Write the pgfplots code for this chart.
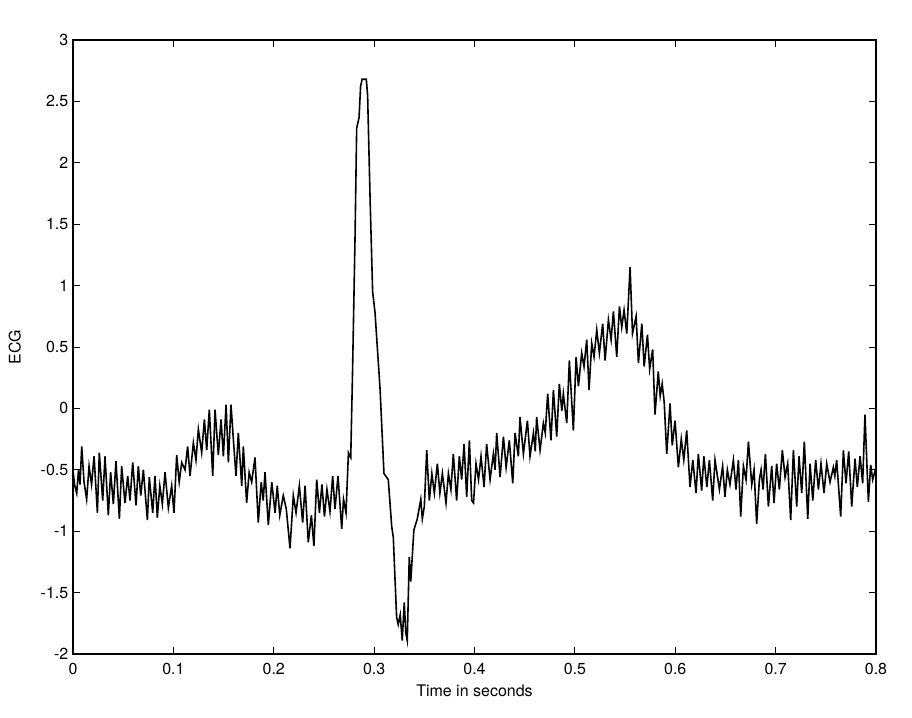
\documentclass[border=0pt]{standalone}
\usepackage{pgfplots}
\pgfplotsset{compat=1.18}
\usepackage{fontspec}
\setmainfont{TeX Gyre Heros}
\begin{document}
\begin{tikzpicture}
\begin{axis}[
  scale only axis,
  width=602.25pt, height=460.5pt,
  xmin=0, xmax=0.8, ymin=-2, ymax=3,
  xtick={0,0.1,0.2,0.3,0.4,0.5,0.6,0.7,0.8},
  ytick={-2,-1.5,-1,-0.5,0,0.5,1,1.5,2,2.5,3},
  xticklabels={0,0.1,0.2,0.3,0.4,0.5,0.6,0.7,0.8},
  yticklabels={-2,-1.5,-1,-0.5,0,0.5,1,1.5,2,2.5,3},
  tick align=inside,
  major tick length=5pt,
  tick style={black, line width=0.6pt},
  axis line style={black, line width=0.9pt},
  ticklabel style={font=\fontsize{12}{14}\selectfont},
  label style={font=\fontsize{12}{14}\selectfont},
  xticklabel style={yshift=-3pt},
  xlabel={Time in seconds},
  ylabel={ECG},
  xlabel style={yshift=-1pt},
  ylabel style={yshift=8pt},
  /pgf/number format/assume math mode=true,
]
\addplot[black, line width=1.2pt] coordinates {
(0.0000,-0.50) (0.0015,-0.62) (0.0037,-0.69) (0.0055,-0.50) (0.0070,-0.62)
(0.0087,-0.31) (0.0110,-0.60) (0.0136,-0.74) (0.0160,-0.47) (0.0185,-0.62)
(0.0210,-0.39) (0.0243,-0.85) (0.0262,-0.36) (0.0296,-0.75) (0.0319,-0.39)
(0.0352,-0.87) (0.0375,-0.52) (0.0402,-0.78) (0.0428,-0.43) (0.0462,-0.90)
(0.0485,-0.47) (0.0518,-0.77) (0.0545,-0.55) (0.0568,-0.75) (0.0595,-0.44)
(0.0628,-0.79) (0.0651,-0.47) (0.0675,-0.71) (0.0701,-0.50) (0.0741,-0.91)
(0.0760,-0.56) (0.0794,-0.85) (0.0817,-0.55) (0.0840,-0.89) (0.0865,-0.63)
(0.0890,-0.78) (0.0917,-0.52) (0.0950,-0.81) (0.0983,-0.63) (0.1006,-0.85)
(0.1033,-0.38) (0.1058,-0.60) (0.1083,-0.44) (0.1116,-0.50) (0.1142,-0.31)
(0.1166,-0.55) (0.1199,-0.28) (0.1225,-0.42) (0.1249,-0.17) (0.1282,-0.36)
(0.1309,-0.09) (0.1332,-0.34) (0.1358,-0.01) (0.1392,-0.55) (0.1415,-0.01)
(0.1448,-0.38) (0.1475,-0.09) (0.1498,-0.39) (0.1525,0.03) (0.1548,-0.44)
(0.1574,0.03) (0.1600,-0.28) (0.1624,-0.55) (0.1647,-0.20) (0.1681,-0.63)
(0.1697,-0.31) (0.1730,-0.77) (0.1755,-0.52) (0.1780,-0.60) (0.1813,-0.40)
(0.1846,-0.93) (0.1875,-0.60) (0.1895,-0.75) (0.1913,-0.52) (0.1946,-0.95)
(0.1980,-0.60) (0.2013,-0.85) (0.2035,-0.63) (0.2060,-0.87) (0.2095,-0.71)
(0.2125,-0.82) (0.2162,-1.14) (0.2195,-0.71) (0.2222,-0.85) (0.2255,-0.63)
(0.2288,-0.93) (0.2312,-0.63) (0.2344,-1.09) (0.2375,-0.87) (0.2400,-1.12)
(0.2428,-0.58) (0.2455,-0.85) (0.2480,-0.62) (0.2505,-0.88) (0.2530,-0.66)
(0.2560,-0.84) (0.2587,-0.55) (0.2610,-0.82) (0.2640,-0.55) (0.2677,-0.98)
(0.2695,-0.74) (0.2720,-0.85) (0.2744,-0.36) (0.2767,-0.40)
(0.2785,0.30) (0.2810,1.40) (0.2826,2.28) (0.2850,2.37) (0.2865,2.62)
(0.2880,2.68) (0.2922,2.68) (0.2935,2.55) (0.2960,1.70) (0.2985,0.95)
(0.3009,0.78) (0.3059,0.16) (0.3098,-0.53) (0.3141,-0.58) (0.3175,-0.96)
(0.3191,-1.05) (0.3224,-1.70) (0.3240,-1.76) (0.3260,-1.68) (0.3280,-1.89)
(0.3300,-1.58) (0.3316,-1.83) (0.3330,-1.89) (0.3350,-1.21) (0.3365,-1.41)
(0.3396,-0.99) (0.3430,-0.90) (0.3465,-0.74) (0.3480,-0.90) (0.3500,-0.80)
(0.3524,-0.34) (0.3550,-0.75) (0.3575,-0.53) (0.3600,-0.69) (0.3630,-0.45)
(0.3655,-0.69) (0.3680,-0.53) (0.3716,-0.77) (0.3740,-0.53) (0.3765,-0.66)
(0.3789,-0.37) (0.3822,-0.75) (0.3849,-0.39) (0.3872,-0.58) (0.3896,-0.29)
(0.3922,-0.72) (0.3949,-0.26) (0.3972,-0.75) (0.3990,-0.77) (0.4015,-0.45)
(0.4040,-0.58) (0.4065,-0.39) (0.4095,-0.64) (0.4121,-0.29) (0.4155,-0.58)
(0.4188,-0.37) (0.4205,-0.50) (0.4221,-0.20) (0.4255,-0.56) (0.4288,-0.23)
(0.4315,-0.48) (0.4347,-0.26) (0.4381,-0.61) (0.4404,-0.20) (0.4437,-0.39)
(0.4453,-0.07) (0.4487,-0.37) (0.4527,-0.10) (0.4553,-0.39) (0.4587,-0.20)
(0.4605,-0.35) (0.4619,-0.07) (0.4653,-0.34) (0.4686,-0.12) (0.4705,-0.20)
(0.4729,0.12) (0.4762,-0.26) (0.4786,0.15) (0.4819,-0.23) (0.4845,0.20)
(0.4870,-0.02) (0.4885,0.12) (0.4919,-0.12) (0.4945,0.39) (0.4985,-0.18)
(0.5012,0.42) (0.5035,0.18) (0.5068,0.45) (0.5091,0.34) (0.5118,0.56)
(0.5141,0.15) (0.5168,0.53) (0.5191,0.42) (0.5218,0.64) (0.5244,0.45)
(0.5277,0.69) (0.5301,0.39) (0.5334,0.72) (0.5361,0.56) (0.5384,0.79)
(0.5417,0.42) (0.5444,0.83) (0.5467,0.66) (0.5490,0.80) (0.5517,0.61)
(0.5550,1.15) (0.5574,0.61) (0.5610,0.75) (0.5633,0.37) (0.5667,0.69)
(0.5690,0.34) (0.5723,0.60) (0.5745,0.32) (0.5775,0.48) (0.5798,-0.05)
(0.5831,0.30) (0.5850,0.10) (0.5870,0.20) (0.5890,0.05) (0.5915,-0.37)
(0.5948,0.04) (0.5970,-0.30) (0.5998,-0.10) (0.6031,-0.48) (0.6060,-0.25)
(0.6085,-0.42) (0.6114,-0.18) (0.6147,-0.64) (0.6175,-0.42) (0.6207,-0.69)
(0.6230,-0.37) (0.6263,-0.67) (0.6285,-0.39) (0.6315,-0.64) (0.6340,-0.42)
(0.6373,-0.75) (0.6396,-0.42) (0.6440,-0.66) (0.6472,-0.47) (0.6495,-0.72)
(0.6519,-0.50) (0.6545,-0.62) (0.6579,-0.42) (0.6605,-0.66) (0.6629,-0.42)
(0.6652,-0.88) (0.6679,-0.47) (0.6705,-0.58) (0.6729,-0.27) (0.6762,-0.62)
(0.6785,-0.50) (0.6811,-0.94) (0.6838,-0.58) (0.6855,-0.50) (0.6875,-0.66)
(0.6898,-0.37) (0.6928,-0.80) (0.6961,-0.47) (0.6984,-0.77) (0.7010,-0.45)
(0.7037,-0.66) (0.7067,-0.34) (0.7094,-0.56) (0.7120,-0.45) (0.7150,-0.91)
(0.7177,-0.34) (0.7210,-0.80) (0.7233,-0.39) (0.7260,-0.69) (0.7286,-0.27)
(0.7320,-0.90) (0.7343,-0.45) (0.7370,-0.75) (0.7399,-0.42) (0.7426,-0.66)
(0.7452,-0.45) (0.7482,-0.69) (0.7509,-0.45) (0.7542,-0.60) (0.7575,-0.48)
(0.7590,-0.55) (0.7608,-0.42) (0.7648,-0.88) (0.7675,-0.34) (0.7701,-0.61)
(0.7728,-0.35) (0.7758,-0.80) (0.7791,-0.41) (0.7814,-0.64) (0.7841,-0.39)
(0.7867,-0.61) (0.7890,-0.05) (0.7924,-0.76) (0.7947,-0.46) (0.7967,-0.58)
(0.8000,-0.48)
};
\end{axis}
\pgfresetboundingbox
\path[use as bounding box] ([shift={(-54.75pt,-47.25pt)}]current axis.south west) rectangle ([shift={(27pt,30pt)}]current axis.north east);
\end{tikzpicture}
\end{document}
